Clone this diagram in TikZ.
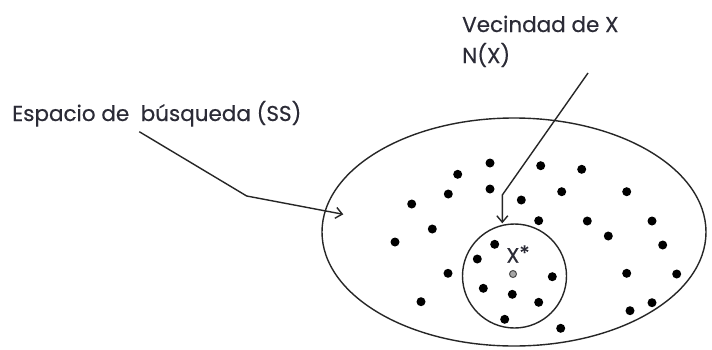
\documentclass[tikz,border=0pt]{standalone}
\usepackage{fontspec}
\setmainfont{Poppins}[FakeBold=0.4]
\usetikzlibrary{arrows.meta,shapes.geometric}
\definecolor{ink}{HTML}{2B2B36}
\definecolor{linegray}{HTML}{262626}
\tikzset{
  label text/.style={inner sep=0pt, anchor=base west, text=ink, font=\fontsize{21.5}{24}\selectfont},
  region/.style={draw=linegray, line width=1.4pt, inner sep=0pt},
  pointer/.style={draw=linegray, line width=1.4pt, -{Straight Barb[length=6.5pt,width=11pt,line width=1.4pt]}},
  sol/.style={fill=black, draw=none, circle, minimum size=9pt, inner sep=0pt},
  best/.style={fill=gray!70, draw=gray!60!black, line width=1pt, circle, minimum size=7pt, inner sep=0pt}
}
\begin{document}
\begin{tikzpicture}[x=1pt,y=-1pt]
\useasboundingbox (0,0) rectangle (712,349);
\fill[white] (0,0) rectangle (712,349);

% search space and neighbourhood
\node[region, ellipse, minimum width=384pt, minimum height=228pt] (ss) at (514,232) {};
\node[region, circle, minimum size=104pt] (nx) at (514.5,276) {};

% labels
\node[label text] (lss) at (12,121) {Espacio de \ búsqueda (SS)};
\node[label text] (lvx) at (462,32) {Vecindad de X};
\node[label text] (lnx) at (462,63) {N(X)};
\node[text=ink, font=\fontsize{21}{24}\selectfont, inner sep=0pt] (xs) at (518,254) {X\raisebox{2pt}{*}};

% solutions
\foreach \px/\py [count=\i] in {
  490/163, 457.7/174.3, 540.7/165.7, 581.7/169.3, 490/189, 448.3/194,
  411.7/204, 521.3/200, 561.7/191.7, 626.7/191.7, 432.3/229, 538.7/220.7,
  587.3/221, 652/221, 395/242, 608.3/236, 662.7/245, 494.7/244.3,
  477.3/259, 448/273.3, 552.3/276.7, 626.7/273.3, 676.7/274, 483.3/288.3,
  512.3/294.3, 538.7/302.3, 421/301.7, 652/302.7, 630/310.7, 504.7/319.3,
  560.7/328.3}
  \node[sol] (s\i) at (\px,\py) {};
\node[best] (xbest) at (513,274) {};

% pointers
\coordinate (a1) at (139.3,131.7);
\coordinate (b1) at (246.7,196);
\coordinate (t1) at (343.3,214.3);
\coordinate (a2) at (588,73);
\coordinate (b2) at (502.3,195);
\coordinate (t2) at (502.3,223.3);
\draw[pointer] (a1) -- (b1) -- (t1);
\draw[pointer] (a2) -- (b2) -- (t2);
\end{tikzpicture}
\end{document}
